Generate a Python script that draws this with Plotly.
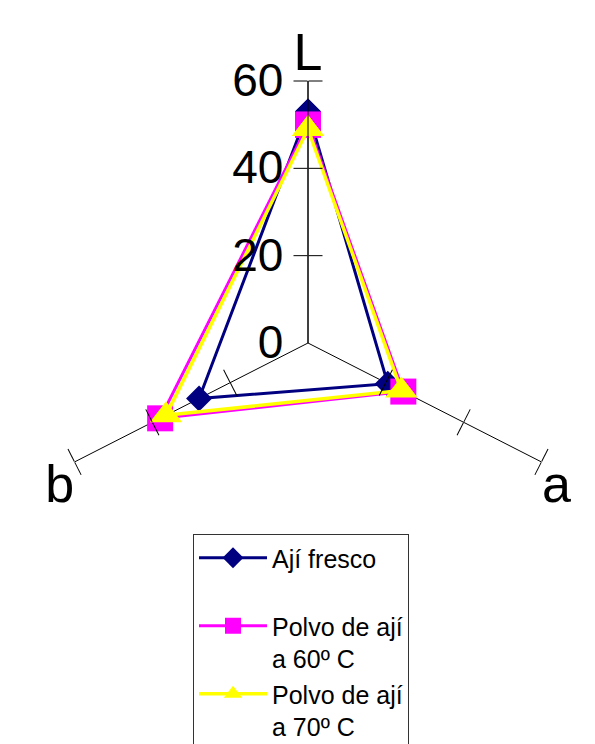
import plotly.graph_objects as go

# Data
axes_labels = ["L", "a", "b"]
axes_angles = [90, 333, 207]  # degrees, as drawn in the reference
series_names = ["Ají fresco<br> ", "Polvo de ají<br>a 60º C", "Polvo de ají<br>a 70º C"]
fresco = [53, 20.5, 28]
polvo60 = [50, 24.5, 38]
polvo70 = [49, 24, 36.5]
radial_ticks = [0, 20, 40, 60]

FONT = "Liberation Sans, Arial, sans-serif"
W, H = 595, 744
cx, cy, R = 300, 335, 262
dom_x = [(cx - R) / W, (cx + R) / W]
dom_y = [1 - (cy + R) / H, 1 - (cy - R) / H]

fig = go.Figure()

styles = [
    dict(color="#000080", symbol="diamond", size=20, width=3),
    dict(color="#FF00FF", symbol="square", size=26, width=3),
    dict(color="#FFFF00", symbol="triangle-up", size=28, width=3.5),
]
for name, vals, st in zip(series_names, [fresco, polvo60, polvo70], styles):
    fig.add_trace(go.Scatterpolar(
        r=vals + vals[:1],
        theta=axes_angles + axes_angles[:1],
        mode="lines+markers",
        name=name,
        line=dict(color=st["color"], width=st["width"]),
        marker=dict(color=st["color"], symbol=st["symbol"], size=st["size"],
                    line=dict(width=0)),
        subplot="polar",
    ))

layout = dict(
    width=W, height=H,
    margin=dict(l=0, r=0, t=0, b=0),
    paper_bgcolor="white",
    font=dict(family=FONT, color="black"),
    showlegend=True,
    legend=dict(
        x=185 / W, y=1 - 526 / H, xanchor="left", yanchor="top",
        bordercolor="#333333", borderwidth=1, bgcolor="white",
        font=dict(size=25, family=FONT, color="black"),
        valign="top", itemwidth=68, tracegroupgap=5,
    ),
    polar=dict(
        domain=dict(x=dom_x, y=dom_y),
        bgcolor="rgba(0,0,0,0)",
        angularaxis=dict(
            thetaunit="degrees", rotation=0, direction="counterclockwise",
            tickvals=axes_angles, ticktext=axes_labels,
            showgrid=True, gridcolor="black", gridwidth=1,
            showline=False, ticks="",
            tickfont=dict(size=52, family=FONT, color="black"),
        ),
        radialaxis=dict(
            angle=90, range=[0, 60], tickvals=radial_ticks,
            side="counterclockwise", showline=True, linecolor="black", linewidth=1,
            ticks="outside", ticklen=8, tickcolor="rgba(0,0,0,0)",
            showgrid=False, tickangle=90,
            tickfont=dict(size=46, family=FONT, color="black"),
        ),
    ),
)

n = 2
for ang in axes_angles:
    for side in ["clockwise", "counterclockwise"]:
        key = f"polar{n}"
        layout[key] = dict(
            domain=dict(x=dom_x, y=dom_y),
            bgcolor="rgba(0,0,0,0)",
            angularaxis=dict(visible=False, rotation=0, direction="counterclockwise"),
            radialaxis=dict(
                angle=ang, range=[0, 60], tickvals=radial_ticks[1:],
                side=side, showline=False, showgrid=False,
                ticks="outside", ticklen=14, tickwidth=1, tickcolor="black",
                showticklabels=False,
            ),
        )
        fig.add_trace(go.Scatterpolar(r=[None], theta=[None], subplot=key,
                                      showlegend=False, hoverinfo="skip"))
        n += 1

fig.update_layout(**layout)
fig.write_html("out.html")
